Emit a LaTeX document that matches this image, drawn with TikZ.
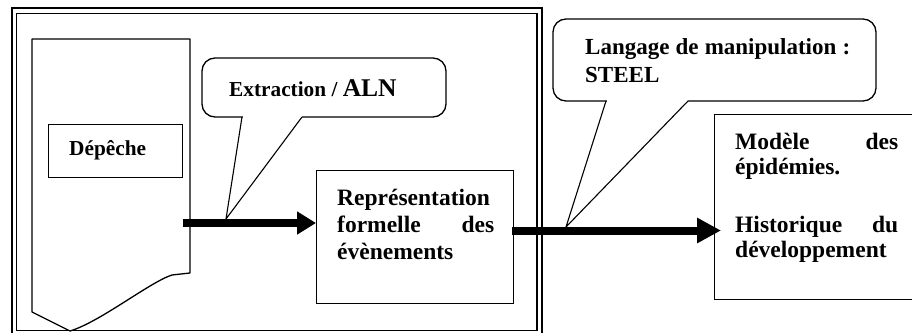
\documentclass[tikz,border=0pt]{standalone}
\usepackage{fontspec}
\setmainfont{Liberation Serif}
\usetikzlibrary{arrows.meta}
\tikzset{
  boxnode/.style={draw, line width=1.3pt, inner sep=0pt, anchor=north west},
  txt/.style={inner sep=0pt, anchor=base west, align=left, font=\bfseries},
  bubble/.style={draw, line width=1.3pt, fill=white, rounded corners=13pt},
  pointer/.style={line width=1.1pt},
  bigarrow/.style={line width=8pt},
}
\begin{document}
\begin{tikzpicture}[x=1pt,y=-1pt]
\useasboundingbox (0,0) rectangle (912,332);
\fill[white] (0,0) rectangle (912,332);

% double frame around the extraction stage
\draw[line width=2.6pt] (12,8) rectangle (542,345);
\draw[line width=1.4pt] (16.5,13.5) rectangle (537,330.5);

% news item page with a torn lower edge
\draw[line width=1.3pt, line join=round]
  (32,39) -- (190,39) -- (190,273) -- (172,275)
  .. controls (150,282) and (100,322) .. (70,331) -- (32,312) -- cycle;

% boxes
\node[boxnode, minimum width=134pt, minimum height=53pt] (dep) at (48,124) {};
\node[boxnode, minimum width=197pt, minimum height=133pt] (rep) at (316,170) {};
\node[boxnode, minimum width=205pt, minimum height=185pt] (mod) at (714,114) {};

\node[txt, font=\bfseries\fontsize{21.3}{24}\selectfont] (deptxt) at (69,155) {Dépêche};

\node[txt, text width=157pt, font=\bfseries\fontsize{23.5}{27}\selectfont] (reptxt) at (337,205)
  {Représentation\\formelle\hfill des\\évènements};

\node[txt, text width=163pt, font=\bfseries\fontsize{23.5}{25}\selectfont] (modtxt) at (735,149)
  {Modèle\hfill des\\épidémies.\\[33pt]Historique\hfill du\\développement};

% arrow anchors and callout tips
\coordinate (a1s) at (183,223);
\coordinate (a2s) at (512,230.5);
\coordinate (tip1) at (226,219);
\coordinate (tip2) at (566,227);

% callout: Extraction / ALN
\draw[bubble] (202,58) rectangle (446,117);
\fill[white] (242.5,115.5) rectangle (301.5,119);
\draw[pointer] (242,117) -- (tip1) -- (302,117);
\node[txt, font=\bfseries\fontsize{21.3}{24}\selectfont] (c1txt) at (229,96)
  {Extraction / {\fontsize{25.5}{28}\selectfont ALN}};

% callout: Langage de manipulation
\draw[bubble] (553,19) rectangle (876,101);
\fill[white] (606.5,99.5) rectangle (687.5,103);
\draw[pointer] (606,101) -- (tip2) -- (688,101);
\node[txt, text width=265pt, font=\bfseries\fontsize{23}{28}\selectfont] (c2txt) at (585,54)
  {Langage\hfill de\hfill manipulation\hfill :\\STEEL};

% thick arrows
\draw[bigarrow, -{Triangle[length=19pt, width=22pt]}] (a1s) -- (rep.west |- a1s);
\draw[bigarrow, -{Triangle[length=24pt, width=24pt]}] (a2s) -- ([xshift=7pt]mod.west |- a2s);
\end{tikzpicture}
\end{document}
